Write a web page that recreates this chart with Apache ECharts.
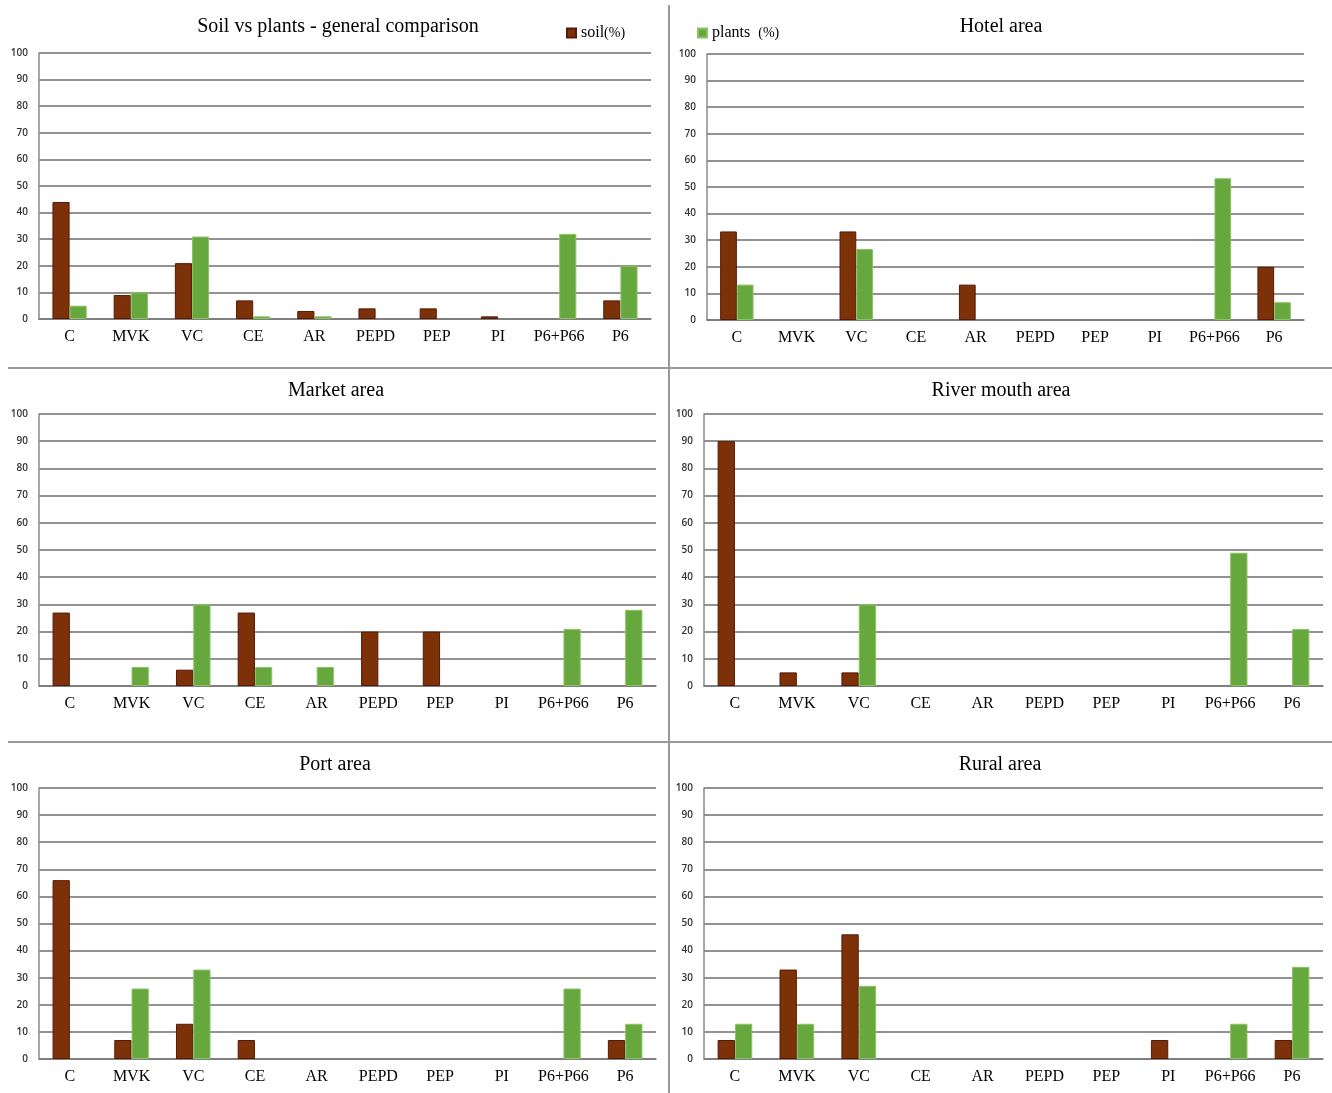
<!DOCTYPE html>
<html>
<head>
<meta charset="utf-8">
<title>Soil vs plants</title>
<script src="https://cdn.jsdelivr.net/npm/echarts@6/dist/echarts.min.js"></script>
<style>
  html, body { margin: 0; padding: 0; background: #fff; }
  #chart { width: 1332px; height: 1093px; }
</style>
</head>
<body>
<div id="chart"></div>
<script>
// Categories shared by every panel
const categories = ['C', 'MVK', 'VC', 'CE', 'AR', 'PEPD', 'PEP', 'PI', 'P6+P66', 'P6'];

// Y-axis range (percent)
const yMin = 0;
const yMax = 100;
const yStep = 10;

// Panel titles
const panelTitles = [
  'Soil vs plants - general comparison',
  'Hotel area',
  'Market area',
  'River mouth area',
  'Port area',
  'Rural area'
];

// Percentages per category: soil and plants
const soilGeneral   = [44, 9, 21, 7, 3, 4, 4, 1, 0, 7];
const plantsGeneral = [5, 10, 31, 1, 1, 0, 0, 0, 32, 20];

const soilHotel   = [33.3, 0, 33.3, 0, 13.3, 0, 0, 0, 0, 20];
const plantsHotel = [13.3, 0, 26.7, 0, 0, 0, 0, 0, 53.3, 6.7];

const soilMarket   = [27, 0, 6, 27, 0, 20, 20, 0, 0, 0];
const plantsMarket = [0, 7, 30, 7, 7, 0, 0, 0, 21, 28];

const soilRiver   = [90, 5, 5, 0, 0, 0, 0, 0, 0, 0];
const plantsRiver = [0, 0, 30, 0, 0, 0, 0, 0, 49, 21];

const soilPort   = [66, 7, 13, 7, 0, 0, 0, 0, 0, 7];
const plantsPort = [0, 26, 33, 0, 0, 0, 0, 0, 26, 13];

const soilRural   = [7, 33, 46, 0, 0, 0, 0, 7, 0, 7];
const plantsRural = [13, 13, 27, 0, 0, 0, 0, 0, 13, 34];

const soilSets   = [soilGeneral, soilHotel, soilMarket, soilRiver, soilPort, soilRural];
const plantsSets = [plantsGeneral, plantsHotel, plantsMarket, plantsRiver, plantsPort, plantsRural];

const SOIL = 'soil (%)';
const PLANTS = 'plants (%)';

// Plot rectangles (left, right edge, top, bottom edge) in page pixels
const W = 1332, H = 1093;
const boxes = [
  [39, 651, 53, 319],
  [707, 1304, 54, 320],
  [39, 656, 414, 686],
  [704, 1323, 414, 686],
  [39, 656, 788, 1059],
  [704, 1323, 788, 1059]
];
// Title centres
const titlePos = [[338, 25], [1001, 25], [336, 389], [1001, 389], [335, 763], [1000, 763]];

const serif = '"Liberation Serif", "Times New Roman", serif';
const sans = '"Open Sans", "Liberation Sans", sans-serif';

const grids = [], xAxes = [], yAxes = [], series = [], titles = [];

boxes.forEach(function (b, i) {
  grids.push({ left: b[0], right: W - b[1], top: b[2], bottom: H - b[3], containLabel: false });
  xAxes.push({
    type: 'category', gridIndex: i, data: categories,
    axisLine: { show: true, lineStyle: { color: '#7a7a7a', width: 1.5 } },
    axisTick: { show: false },
    axisLabel: { interval: 0, margin: 10, color: '#000', fontFamily: serif, fontSize: 16 }
  });
  yAxes.push({
    type: 'value', gridIndex: i, min: yMin, max: yMax, interval: yStep,
    axisLine: { show: true, lineStyle: { color: '#8a8a8a', width: 1.5 } },
    axisTick: { show: false },
    axisLabel: { margin: 11, color: '#333', fontFamily: sans, fontSize: 10, fontWeight: 600 },
    splitLine: { show: true, lineStyle: { color: '#6e6e6e', width: 1.5 } }
  });
  titles.push({
    text: panelTitles[i], left: titlePos[i][0], top: titlePos[i][1] - 8, textAlign: 'center',
    padding: 0,
    textStyle: { fontFamily: serif, fontSize: 20, fontWeight: 'normal', color: '#000' }
  });
  const toBar = function (v) { return v === 0 ? '-' : v; };
  series.push({
    name: SOIL, type: 'bar', xAxisIndex: i, yAxisIndex: i,
    data: soilSets[i].map(toBar), barWidth: '28%', barGap: '0%',
    itemStyle: { color: '#7d3109', borderColor: '#561a06', borderWidth: 1 },
    emphasis: { disabled: true }, animation: false
  });
  series.push({
    name: PLANTS, type: 'bar', xAxisIndex: i, yAxisIndex: i,
    data: plantsSets[i].map(toBar), barWidth: '28%', barGap: '0%',
    itemStyle: { color: '#67a83e', borderColor: '#8cc266', borderWidth: 1 },
    emphasis: { disabled: true }, animation: false
  });
});

const legendText = {
  fontFamily: serif, fontSize: 16, color: '#000',
  rich: { n: { fontFamily: serif, fontSize: 16, color: '#000' }, p: { fontFamily: serif, fontSize: 14, color: '#000' } }
};

const option = {
  backgroundColor: '#fff',
  animation: false,
  title: titles,
  legend: [
    {
      data: [SOIL], left: 566, top: 25, padding: 0, icon: 'rect', itemWidth: 9, itemHeight: 9,
      textStyle: legendText, formatter: function () { return '{n|soil}{p|(%)}'; }
    },
    {
      data: [PLANTS], left: 697, top: 25, padding: 0, icon: 'rect', itemWidth: 9, itemHeight: 9,
      textStyle: legendText, formatter: function () { return '{n|plants}  {p|(%)}'; }
    }
  ],
  grid: grids,
  xAxis: xAxes,
  yAxis: yAxes,
  series: series,
  graphic: [
    { type: 'line', shape: { x1: 669, y1: 5, x2: 669, y2: H }, style: { stroke: '#9a9a9a', lineWidth: 2 } },
    { type: 'line', shape: { x1: 8, y1: 368, x2: W, y2: 368 }, style: { stroke: '#9a9a9a', lineWidth: 2 } },
    { type: 'line', shape: { x1: 8, y1: 742, x2: W, y2: 742 }, style: { stroke: '#9a9a9a', lineWidth: 2 } }
  ]
};

const chart = echarts.init(document.getElementById('chart'), null, { renderer: 'canvas' });
chart.setOption(option);
</script>
</body>
</html>
